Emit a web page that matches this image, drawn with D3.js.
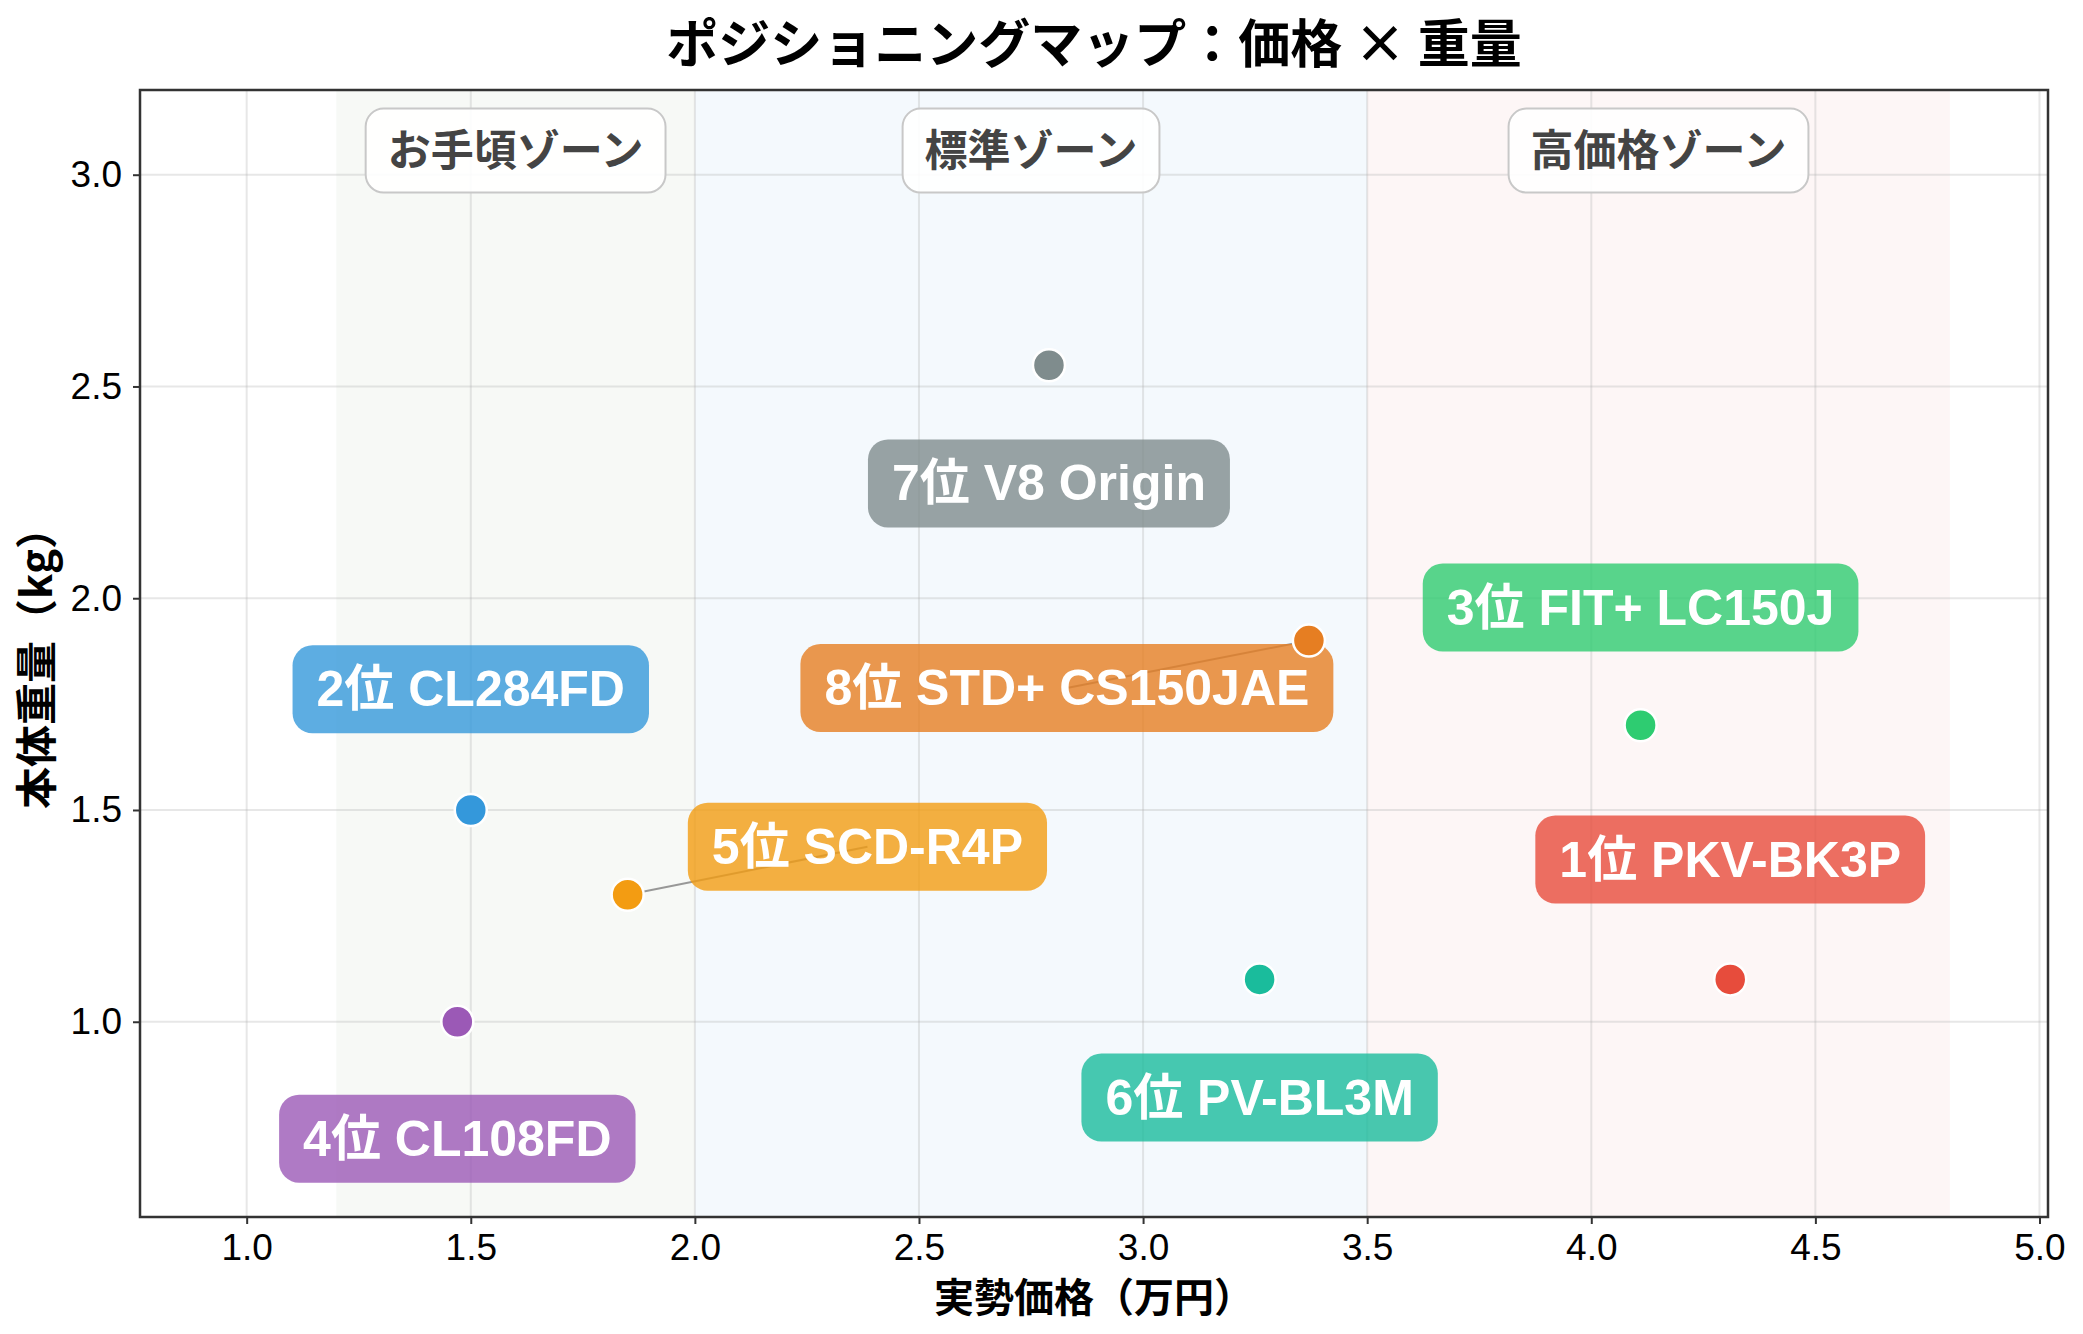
<!DOCTYPE html>
<head>
  <meta charset="utf-8">
  <script src="https://d3js.org/d3.v7.min.js"></script>
  <style>
    body { margin:0; background-color: white; }
    text { font-family: "Liberation Sans", "Noto Sans CJK JP", sans-serif; }
    .title { font-size: 52px; font-weight: bold; font-family: "Noto Sans CJK JP", sans-serif; }
    .axis-label { font-size: 40px; font-weight: bold; font-family: "Noto Sans CJK JP", sans-serif; }
    .tick text { font-size: 37px; fill: #000; }
  </style>
</head>
<body>
  <svg id="chart" width="2083" height="1334"></svg>
  <script>
  // --- data ---
  var names   = ["1位 PKV-BK3P", "2位 CL284FD", "3位 FIT+ LC150J", "4位 CL108FD",
                 "5位 SCD-R4P", "6位 PV-BL3M", "7位 V8 Origin", "8位 STD+ CS150JAE"];
  var prices  = [4.31, 1.50, 4.11, 1.47, 1.85, 3.26, 2.79, 3.37];
  var weights = [1.10, 1.50, 1.70, 1.00, 1.30, 1.10, 2.55, 1.90];
  var labelX  = [4.31, 1.50, 4.11, 1.47, 2.385, 3.26, 2.79, 2.83];
  var labelY  = [1.383, 1.785, 1.978, 0.724, 1.413, 0.821, 2.271, 1.788];
  var colors  = ["#e74c3c", "#3498db", "#2ecc71", "#9b59b6",
                 "#f39c12", "#1abc9c", "#7f8c8d", "#e67e22"];

  var zoneNames  = ["お手頃ゾーン", "標準ゾーン", "高価格ゾーン"];
  var zoneStart  = [1.2, 2.0, 3.5];
  var zoneEnd    = [2.0, 3.5, 4.8];
  var zoneFill   = ["#f7f9f6", "#f4f9fd", "#fdf6f6"];
  var zoneLabelY = 3.057;

  var xTicks = [1.0, 1.5, 2.0, 2.5, 3.0, 3.5, 4.0, 4.5, 5.0];
  var yTicks = [1.0, 1.5, 2.0, 2.5, 3.0];

  var margin = {top: 90, right: 35, bottom: 117, left: 140},
      width = 2083 - margin.left - margin.right,
      height = 1334 - margin.top - margin.bottom;

  var svg = d3.select("#chart");
  var g = svg.append("g").attr("transform", "translate(" + margin.left + "," + margin.top + ")");

  var x = d3.scaleLinear().domain([0.762, 5.019]).range([0, width]);
  var y = d3.scaleLinear().domain([0.539, 3.2]).range([height, 0]);

  // zone backgrounds
  g.selectAll(".zone")
    .data(zoneNames)
    .enter().append("rect")
      .attr("class", "zone")
      .attr("x", function(d, i) { return x(zoneStart[i]); })
      .attr("width", function(d, i) { return x(zoneEnd[i]) - x(zoneStart[i]); })
      .attr("y", 0)
      .attr("height", height)
      .style("fill", function(d, i) { return zoneFill[i]; });

  // grid
  g.selectAll(".gx").data(xTicks).enter().append("line")
    .attr("x1", function(d) { return x(d); }).attr("x2", function(d) { return x(d); })
    .attr("y1", 0).attr("y2", height)
    .style("stroke", "#b0b0b0").style("stroke-opacity", 0.3).style("stroke-width", 2);
  g.selectAll(".gy").data(yTicks).enter().append("line")
    .attr("y1", function(d) { return y(d); }).attr("y2", function(d) { return y(d); })
    .attr("x1", 0).attr("x2", width)
    .style("stroke", "#b0b0b0").style("stroke-opacity", 0.3).style("stroke-width", 2);

  // axes
  var xAxis = g.append("g").attr("transform", "translate(0," + height + ")")
    .call(d3.axisBottom(x).tickValues(xTicks).tickFormat(d3.format(".1f")).tickSize(7).tickPadding(10));
  var yAxis = g.append("g")
    .call(d3.axisLeft(y).tickValues(yTicks).tickFormat(d3.format(".1f")).tickSize(7).tickPadding(11));
  [xAxis, yAxis].forEach(function(a) {
    a.select(".domain").remove();
    a.selectAll(".tick line").style("stroke", "#333").style("stroke-width", 2);
  });

  // zone labels
  zoneNames.forEach(function(name, i) {
    var cx = x((zoneStart[i] + zoneEnd[i]) / 2), cy = y(zoneLabelY);
    var grp = g.append("g");
    var box = grp.append("rect");
    var t = grp.append("text")
      .attr("x", cx).attr("y", cy).attr("dy", "0.36em")
      .style("text-anchor", "middle")
      .style("font-family", "'Noto Sans CJK JP', sans-serif")
      .style("font-size", "43px").style("font-weight", "bold")
      .style("fill", "#444")
      .text(name);
    var w = t.node().getComputedTextLength() + 44;
    box.attr("x", cx - w / 2).attr("y", cy - 42).attr("width", w).attr("height", 84)
      .attr("rx", 18).attr("ry", 18)
      .style("fill", "white").style("fill-opacity", 0.9)
      .style("stroke", "#c8c8c8").style("stroke-width", 2);
  });

  // connector lines for shifted labels
  names.forEach(function(n, i) {
    if (labelX[i] !== prices[i]) {
      g.append("line")
        .attr("x1", x(prices[i])).attr("y1", y(weights[i]))
        .attr("x2", x(labelX[i])).attr("y2", y(labelY[i]))
        .style("stroke", "gray").style("stroke-opacity", 0.8).style("stroke-width", 2);
    }
  });

  // product labels
  names.forEach(function(n, i) {
    var cx = x(labelX[i]), cy = y(labelY[i]);
    var grp = g.append("g");
    var box = grp.append("rect");
    var t = grp.append("text")
      .attr("x", cx).attr("y", cy).attr("dy", "0.34em")
      .style("text-anchor", "middle")
      .style("font-size", "50px").style("font-weight", "bold")
      .style("fill", "white")
      .text(n);
    var w = t.node().getComputedTextLength() + 48;
    box.attr("x", cx - w / 2).attr("y", cy - 44).attr("width", w).attr("height", 88)
      .attr("rx", 20).attr("ry", 20)
      .style("fill", colors[i]).style("fill-opacity", 0.8);
  });

  // points
  g.selectAll(".dot")
    .data(names)
    .enter().append("circle")
      .attr("class", "dot")
      .attr("cx", function(d, i) { return x(prices[i]); })
      .attr("cy", function(d, i) { return y(weights[i]); })
      .attr("r", 16)
      .style("fill", function(d, i) { return colors[i]; })
      .style("stroke", "white").style("stroke-width", 2.5);

  // frame
  g.append("rect").attr("width", width).attr("height", height)
    .style("fill", "none").style("stroke", "#333").style("stroke-width", 2.5);

  // title and axis labels
  svg.append("text").attr("class", "title")
    .attr("x", margin.left + width / 2).attr("y", 44).attr("dy", "0.36em")
    .style("text-anchor", "middle")
    .text("ポジショニングマップ：価格 × 重量");

  svg.append("text").attr("class", "axis-label")
    .attr("x", margin.left + width / 2).attr("y", 1298).attr("dy", "0.36em")
    .style("text-anchor", "middle")
    .text("実勢価格（万円）");

  svg.append("text").attr("class", "axis-label")
    .attr("transform", "translate(37,658) rotate(-90)")
    .attr("dy", "0.36em")
    .style("text-anchor", "middle")
    .style("font-size", "42px")
    .text("本体重量（kg）");
  </script>
</body>
